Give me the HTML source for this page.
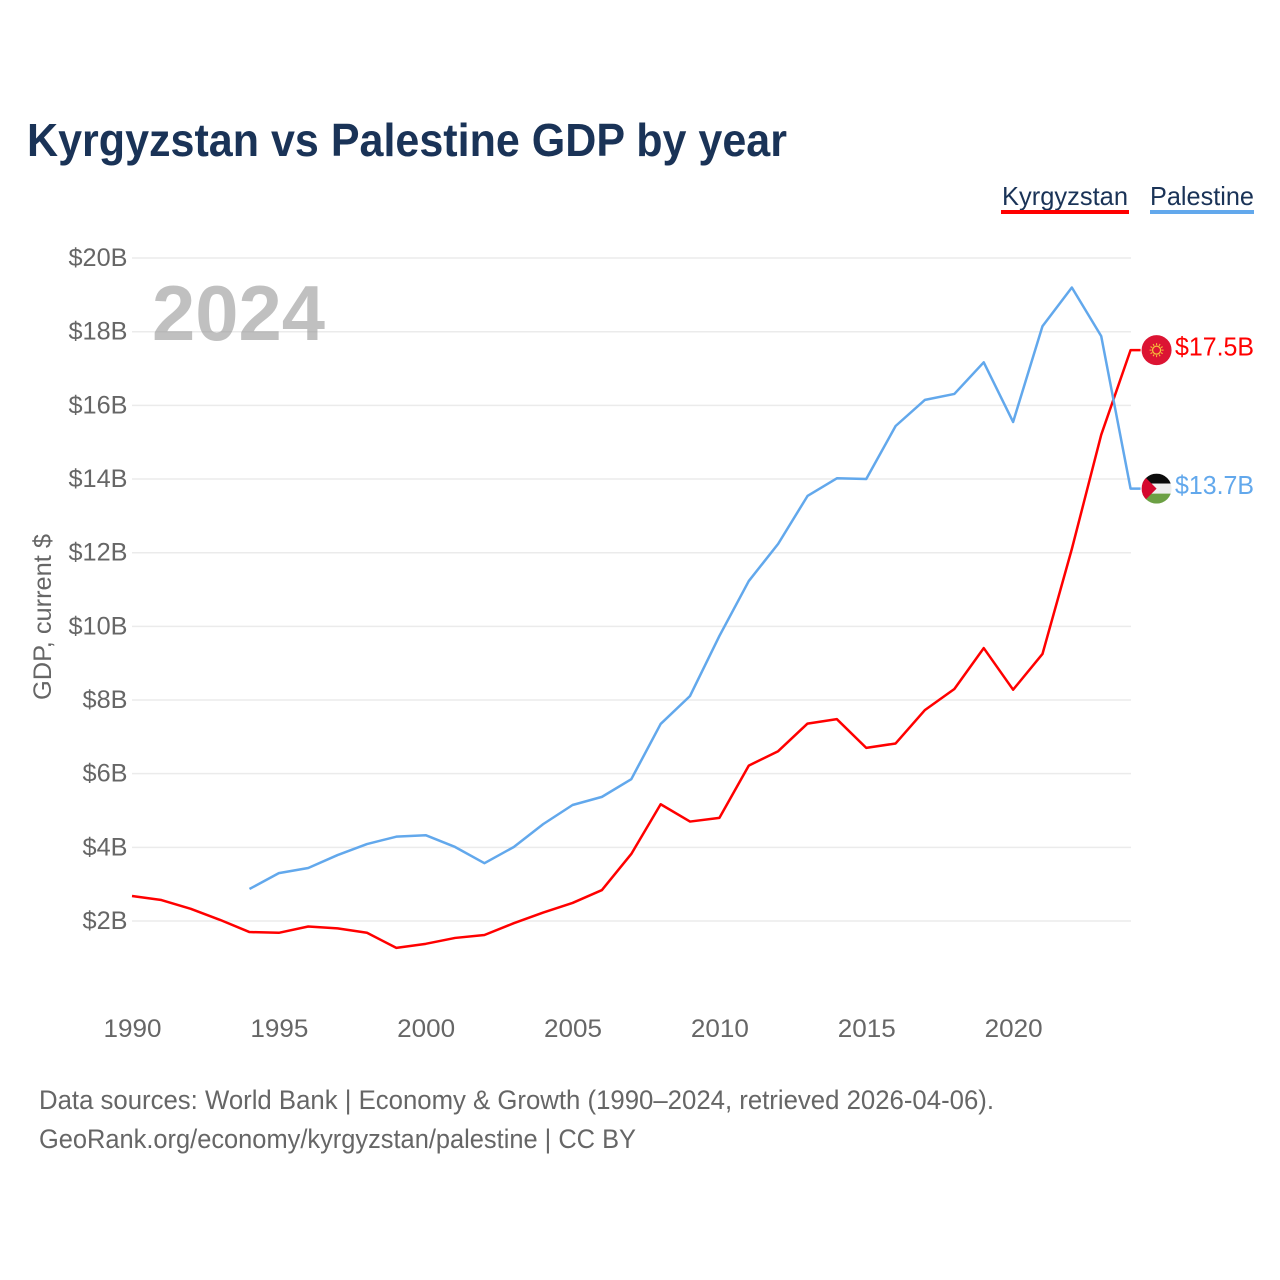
<!DOCTYPE html>
<html lang="en">
<head>
<meta charset="utf-8">
<title>Kyrgyzstan vs Palestine GDP by year</title>
<style>
html,body{margin:0;padding:0;background:#fff;width:1280px;height:1280px;overflow:hidden}
svg{display:block}
text{font-family:"Liberation Sans",sans-serif}
</style>
</head>
<body>
<svg id="chart" xmlns="http://www.w3.org/2000/svg" width="1280" height="1280" viewBox="0 0 1280 1280">
  <defs>
    <clipPath id="flag-clip-a"><circle cx="0" cy="0" r="15"></circle></clipPath>
  </defs>
  <text x="27" y="156" font-size="46" font-weight="700" fill="#1a3357" textLength="760" lengthAdjust="spacingAndGlyphs">Kyrgyzstan vs Palestine GDP by year</text>

  <g>
    <text x="1002" y="205" font-size="26" fill="#1a3357" textLength="126" lengthAdjust="spacingAndGlyphs">Kyrgyzstan</text>
    <rect x="1001" y="210" width="128" height="4" fill="#ff0000"></rect>
  </g>
  <g>
    <text x="1150" y="205" font-size="26" fill="#1a3357" textLength="104" lengthAdjust="spacingAndGlyphs">Palestine</text>
    <rect x="1150" y="210" width="104" height="4" fill="#62a8ec"></rect>
  </g>

  <g id="grid"></g>
  <g id="yticks"></g>
  <g id="xticks"></g>

  <text x="152" y="340" font-size="78" font-weight="700" fill="#999999" fill-opacity="0.62" textLength="173" lengthAdjust="spacingAndGlyphs">2024</text>

  <text transform="translate(51 700) rotate(-90)" font-size="25" fill="#666666" textLength="166" lengthAdjust="spacingAndGlyphs">GDP, current $</text>

  <g id="series"></g>
  <g id="ends"></g>

  <text x="39" y="1109" font-size="27" fill="#666666" textLength="955" lengthAdjust="spacingAndGlyphs">Data sources: World Bank | Economy &amp; Growth (1990–2024, retrieved 2026-04-06).</text>
  <text x="39" y="1148" font-size="27" fill="#666666" textLength="597" lengthAdjust="spacingAndGlyphs">GeoRank.org/economy/kyrgyzstan/palestine | CC BY</text>
</svg>
<script>
var years = [1990,1991,1992,1993,1994,1995,1996,1997,1998,1999,2000,2001,2002,2003,2004,2005,2006,2007,2008,2009,2010,2011,2012,2013,2014,2015,2016,2017,2018,2019,2020,2021,2022,2023,2024];
var kyrgyzstan = [2.68,2.57,2.33,2.03,1.70,1.68,1.85,1.80,1.68,1.27,1.38,1.54,1.62,1.94,2.23,2.49,2.84,3.82,5.17,4.70,4.80,6.22,6.61,7.36,7.48,6.70,6.82,7.73,8.30,9.41,8.28,9.25,12.10,15.20,17.50];
var palestine = [null,null,null,null,2.87,3.30,3.44,3.79,4.09,4.29,4.33,4.01,3.57,4.01,4.63,5.15,5.37,5.85,7.35,8.11,9.74,11.23,12.24,13.54,14.02,14.00,15.44,16.15,16.31,17.17,15.55,18.15,19.20,17.88,13.74];
var yTickValues = [2,4,6,8,10,12,14,16,18,20];
var xTickValues = [1990,1995,2000,2005,2010,2015,2020];

var NS = 'http://www.w3.org/2000/svg';
function xScale(year){ return 132 + (year - 1990) * 29.37; }
function yScale(v){ return 921 - (v - 2) * 36.83; }
function make(tag, attrs, parent){
  var el = document.createElementNS(NS, tag);
  for (var k in attrs) el.setAttribute(k, attrs[k]);
  parent.appendChild(el);
  return el;
}

var gridG = document.getElementById('grid');
var yG = document.getElementById('yticks');
var xG = document.getElementById('xticks');
var seriesG = document.getElementById('series');
var endsG = document.getElementById('ends');

yTickValues.forEach(function(v){
  var line = make('line', {x1:132, x2:1131, y1:yScale(v), y2:yScale(v), stroke:'#ebebeb', 'stroke-width':1.5}, gridG);
  
  
  var label = '$' + v + 'B';
  var t = make('text', {x:127.5, y:yScale(v) + 8, 'text-anchor':'end', 'font-size':25, fill:'#666666', textLength: v >= 10 ? 59 : 45, lengthAdjust:'spacingAndGlyphs'}, yG);
  t.textContent = label;
  
  
});

xTickValues.forEach(function(y){
  var t = make('text', {x:xScale(y) + 0.5, y:1037, 'text-anchor':'middle', 'font-size':25, fill:'#666666', textLength:58, lengthAdjust:'spacingAndGlyphs'}, xG);
  t.textContent = String(y);
  
  
});

function drawLine(values, color, name){
  var d = '';
  var lastV = null;
  values.forEach(function(v, i){
    if (v === null) return;
    d += (d ? 'L' : 'M') + xScale(years[i]).toFixed(2) + ' ' + yScale(v).toFixed(2);
    lastV = v;
  });
  d += 'L' + (xScale(years[years.length - 1]) + 10).toFixed(2) + ' ' + yScale(lastV).toFixed(2);
  var p = make('path', {d:d, fill:'none', stroke:color, 'stroke-width':2.5, 'stroke-linejoin':'round'}, seriesG);
  
  
}
drawLine(kyrgyzstan, '#ff0000', 'line-kyrgyzstan');
drawLine(palestine, '#62a8ec', 'line-palestine');

var flagX = xScale(2024) + 26;

function endLabel(values, color, name){
  var v = values[values.length - 1];
  var t = make('text', {x:1175, y:yScale(v) + 5.5, 'font-size':25.5, fill:color, textLength:79, lengthAdjust:'spacingAndGlyphs'}, endsG);
  t.textContent = '$' + v.toFixed(1) + 'B';
  
  
}
endLabel(kyrgyzstan, '#ff0000', 'value-label-kyrgyzstan');
endLabel(palestine, '#62a8ec', 'value-label-palestine');

/* Kyrgyzstan flag */
var kg = make('g', {transform:'translate(' + flagX + ' ' + yScale(kyrgyzstan[kyrgyzstan.length - 1]) + ')'}, endsG);


make('circle', {cx:0, cy:0, r:15, fill:'#dc1433'}, kg);
make('circle', {cx:0, cy:0, r:4, fill:'none', stroke:'#f5c13a', 'stroke-width':1.3}, kg);
for (var a = 0; a < 12; a++) {
  var ang = a * Math.PI / 6;
  make('line', {x1:Math.cos(ang) * 5, y1:Math.sin(ang) * 5, x2:Math.cos(ang) * 7, y2:Math.sin(ang) * 7, stroke:'#f5b93a', 'stroke-width':1.1}, kg);
}

/* Palestine flag */
var ps = make('g', {transform:'translate(' + flagX + ' ' + yScale(palestine[palestine.length - 1]) + ')', 'clip-path':'url(#flag-clip-a)'}, endsG);


make('rect', {x:-15, y:-15, width:30, height:10, fill:'#0c0c0c'}, ps);
make('rect', {x:-15, y:-5, width:30, height:10, fill:'#efefef'}, ps);
make('rect', {x:-15, y:5, width:30, height:10, fill:'#6ca044'}, ps);
make('polygon', {points:'-15,-15 0,0 -15,15', fill:'#d5082e'}, ps);
</script>
</body>
</html>
